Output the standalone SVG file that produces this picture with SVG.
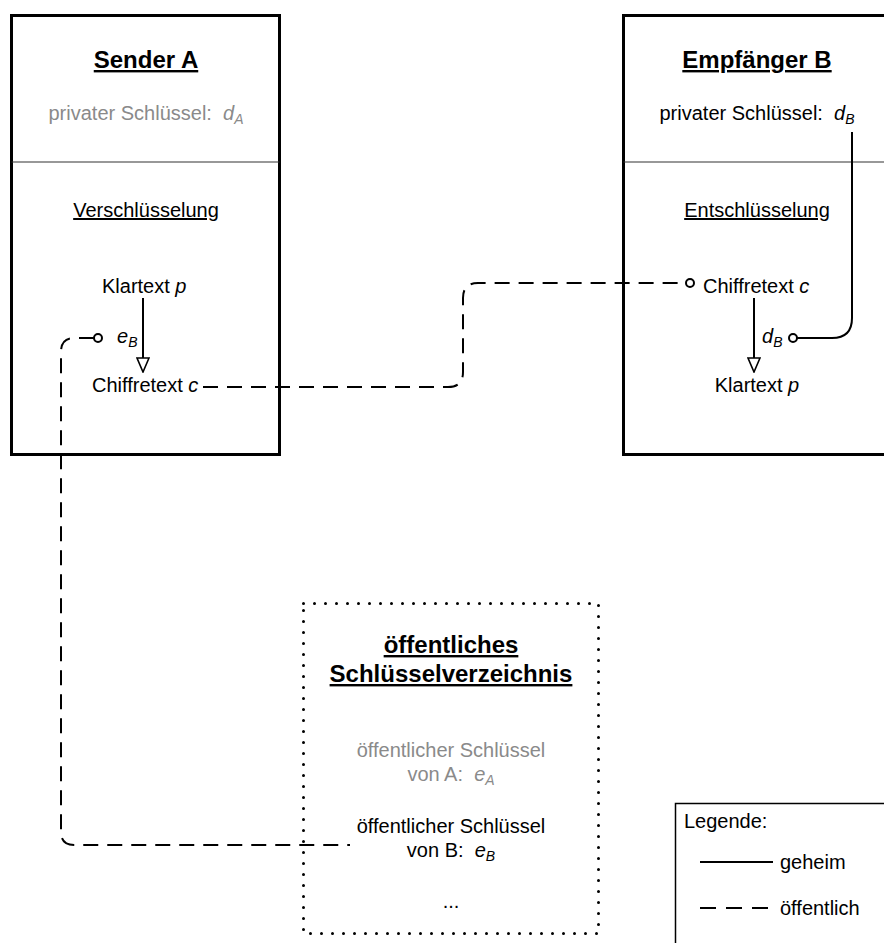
<svg xmlns="http://www.w3.org/2000/svg" width="884" height="943" viewBox="0 0 884 943">
<style>
text{font-family:"Liberation Sans",Arial,sans-serif;font-size:20px;fill:#000;white-space:pre}
.title{font-size:24px;font-weight:bold;text-decoration:underline}
.ul{text-decoration:underline}
.gray{fill:#8a8a8a}
.it{font-style:italic}
.sub{font-style:italic;font-size:14px}
.box{fill:#fff;stroke:#000;stroke-width:3}
.div{stroke:#333;stroke-width:1.2}
.solid{fill:none;stroke:#000;stroke-width:2}
.dash{fill:none;stroke:#000;stroke-width:2;stroke-dasharray:15 9}
.port{fill:#fff;stroke:#000;stroke-width:2}
</style>
<defs>
<marker id="tri" markerWidth="16" markerHeight="14" refX="15" refY="7" orient="auto" markerUnits="userSpaceOnUse" viewBox="0 0 16 14">
<polygon points="1,1 15,7 1,13" fill="#fff" stroke="#000" stroke-width="1.6"/>
</marker>
</defs>
<rect width="884" height="943" fill="#fff"/>

<g id="senderA">
<rect class="box" x="11.5" y="15.5" width="268" height="439"/>
<line class="div" x1="11.5" y1="162" x2="279.5" y2="162"/>
<text class="title" x="146" y="68" text-anchor="middle">Sender A</text>
<text class="gray" x="146" y="120" text-anchor="middle" xml:space="preserve">privater Schlüssel:  <tspan class="it">d</tspan><tspan class="sub" dy="4">A</tspan></text>
<text class="ul" x="146" y="217" text-anchor="middle">Verschlüsselung</text>
<text x="102" y="293">Klartext <tspan class="it">p</tspan></text>
<text x="117" y="343"><tspan class="it">e</tspan><tspan class="sub" dy="4">B</tspan></text>
<text x="92" y="392">Chiffretext <tspan class="it">c</tspan></text>
<line class="solid" x1="143" y1="298" x2="143" y2="372" marker-end="url(#tri)"/>
</g>

<g id="empfaengerB">
<rect class="box" x="623.5" y="15.5" width="280" height="439"/>
<line class="div" x1="623.5" y1="162" x2="884" y2="162"/>
<text class="title" x="757" y="68" text-anchor="middle">Empfänger B</text>
<text x="757" y="120" text-anchor="middle" xml:space="preserve">privater Schlüssel:  <tspan class="it">d</tspan><tspan class="sub" dy="4">B</tspan></text>
<text class="ul" x="757" y="217" text-anchor="middle">Entschlüsselung</text>
<text x="703" y="293">Chiffretext <tspan class="it">c</tspan></text>
<text x="762" y="343"><tspan class="it">d</tspan><tspan class="sub" dy="4">B</tspan></text>
<text x="757" y="392" text-anchor="middle">Klartext <tspan class="it">p</tspan></text>
<line class="solid" x1="754" y1="298" x2="754" y2="372" marker-end="url(#tri)"/>
</g>

<g id="verzeichnis">
<rect x="303.5" y="603.5" width="295" height="330" fill="none" stroke="#000" stroke-width="3" stroke-linecap="round" stroke-dasharray="0 11"/>
<text class="title" x="451" y="653" text-anchor="middle">öffentliches</text>
<text class="title" x="451" y="682" text-anchor="middle">Schlüsselverzeichnis</text>
<text class="gray" x="451" y="757" text-anchor="middle">öffentlicher Schlüssel</text>
<text class="gray" x="451" y="781" text-anchor="middle" xml:space="preserve">von A:  <tspan class="it">e</tspan><tspan class="sub" dy="4">A</tspan></text>
<text x="451" y="833" text-anchor="middle">öffentlicher Schlüssel</text>
<text x="451" y="857" text-anchor="middle" xml:space="preserve">von B:  <tspan class="it">e</tspan><tspan class="sub" dy="4">B</tspan></text>
<text x="451" y="908" text-anchor="middle">...</text>
</g>

<g id="legende">
<rect x="675.5" y="803.5" width="220" height="150" fill="#fff" stroke="#000" stroke-width="1.5"/>
<text x="684" y="828">Legende:</text>
<line class="solid" x1="700" y1="862" x2="773" y2="862"/>
<text x="780" y="869">geheim</text>
<line x1="700" y1="908" x2="768" y2="908" stroke="#000" stroke-width="2" stroke-dasharray="16 10"/>
<text x="780" y="915">öffentlich</text>
</g>

<g id="connectors">
<path class="dash" d="M203,387 H448 Q463,387 463,372 V298 Q463,283 478,283 H686"/>
<circle class="port" cx="690" cy="283" r="4"/>
<path class="solid" d="M852,132 V318 Q852,338 832,338 H797"/>
<circle class="port" cx="793" cy="338" r="4"/>
<path class="dash" d="M94,338 H74 Q61,338 61,352 V832 Q61,845 74,845 H350"/>
<circle class="port" cx="98" cy="338" r="4"/>
</g>
</svg>
